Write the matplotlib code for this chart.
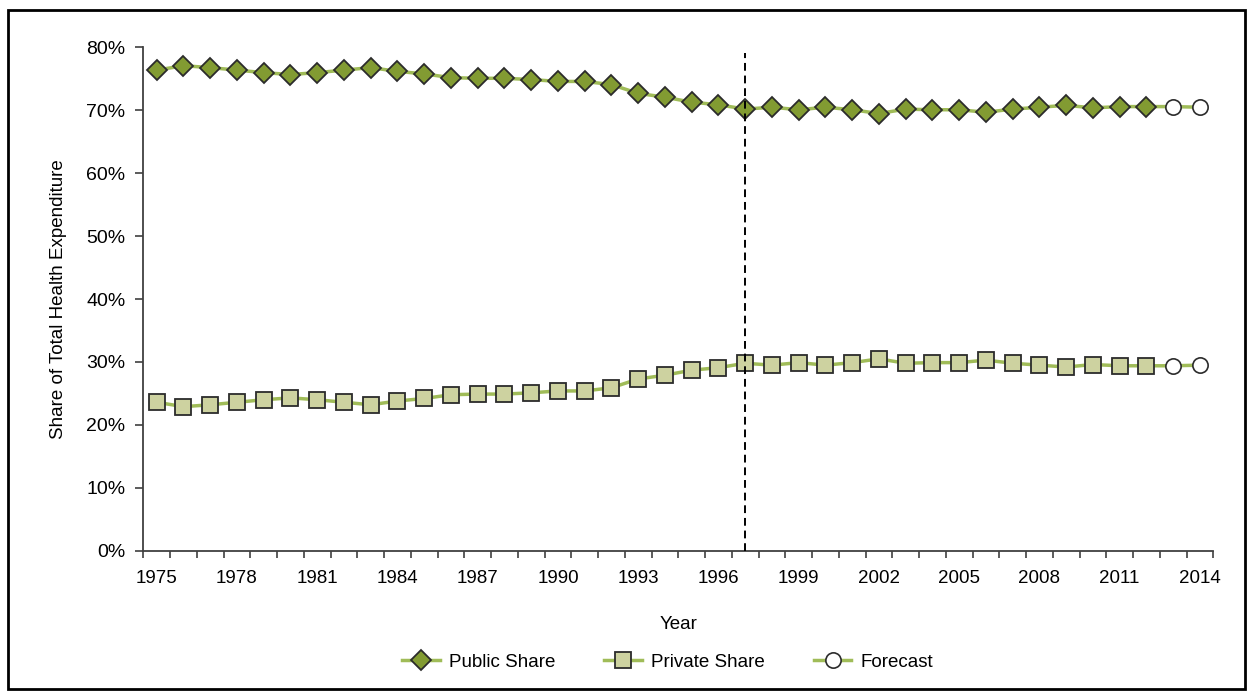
import matplotlib
matplotlib.use("Agg")
import matplotlib.pyplot as plt
from matplotlib.lines import Line2D
from matplotlib.patches import Rectangle
from matplotlib.ticker import PercentFormatter

plt.rcParams['font.family'] = ['Liberation Sans', 'DejaVu Sans']

years = list(range(1975, 2015))
public_share = [76.4, 77.1, 76.8, 76.4, 76.0, 75.7, 76.0, 76.4, 76.8, 76.2,
                75.8, 75.2, 75.1, 75.1, 74.9, 74.6, 74.6, 74.1, 72.7, 72.1,
                71.3, 70.9, 70.2, 70.5, 70.1, 70.5, 70.1, 69.5, 70.2, 70.1,
                70.1, 69.7, 70.2, 70.5, 70.8, 70.4, 70.6, 70.6, 70.6, 70.5]
private_share = [round(100 - v, 1) for v in public_share]
forecast_years = [2013, 2014]
split_year = 1997
tick_years = years[::3]

line_col = "#A0BC58"
edge_col = "#2B2B2B"
pub_col = "#829B32"
priv_col = "#CDD2A0"

fig = plt.figure(figsize=(12.53, 6.95), dpi=100)
ax = fig.add_axes([0.1144, 0.2076, 0.8539, 0.7241])

pos = list(range(len(years)))
n_act = len(years) - len(forecast_years)

for vals, mk, fc, ms in [(public_share, "D", pub_col, 10.5),
                         (private_share, "s", priv_col, 11)]:
    ys = [v / 100 for v in vals]
    ax.plot(pos, ys, color=line_col, lw=2.5, zorder=2)
    ax.plot(pos[:n_act], ys[:n_act], ls="none", marker=mk, ms=ms,
            mfc=fc, mec=edge_col, mew=1.3, zorder=3)
    ax.plot(pos[n_act:], ys[n_act:], ls="none", marker="o", ms=11,
            mfc="white", mec=edge_col, mew=1.2, zorder=3)

sx = years.index(split_year)
ax.vlines(sx, 0, 0.792, colors="black", linestyles=(0, (4, 2.5)), lw=1.4, zorder=4)

ax.set_xlim(-0.5, len(years) - 0.5)
ax.set_ylim(0, 0.8)
ax.set_yticks([i / 10 for i in range(9)])
ax.yaxis.set_major_formatter(PercentFormatter(1.0, decimals=0))

ax.set_xticks([p - 0.5 for p in range(len(years) + 1)])
ax.set_xticklabels([])
ax.set_xticks([years.index(y) for y in tick_years], minor=True)
ax.set_xticklabels([str(y) for y in tick_years], minor=True)
ax.tick_params(axis="x", which="major", length=5, width=1.2, color="#404040")
ax.tick_params(axis="x", which="minor", length=0, pad=14, labelsize=13.5)
ax.tick_params(axis="y", length=6, width=1.2, color="#404040", labelsize=14, pad=7)

for s in ["top", "right"]:
    ax.spines[s].set_visible(False)
for s in ["left", "bottom"]:
    ax.spines[s].set_color("#404040")
    ax.spines[s].set_linewidth(1.3)

ax.set_xlabel("Year", fontsize=13.5, labelpad=21)
ax.set_ylabel("Share of Total Health Expenditure", fontsize=13.5, labelpad=14)

handles = [
    Line2D([], [], color=line_col, lw=2.5, marker="D", ms=10, mfc=pub_col, mec=edge_col, mew=1.3),
    Line2D([], [], color=line_col, lw=2.5, marker="s", ms=11, mfc=priv_col, mec=edge_col, mew=1.3),
    Line2D([], [], color=line_col, lw=2.5, marker="o", ms=11, mfc="white", mec=edge_col, mew=1.2),
]
fig.legend(handles, ["Public Share", "Private Share", "Forecast"], loc="center",
           bbox_to_anchor=(0.533, 0.047), ncol=3, frameon=False, fontsize=13.5,
           handlelength=2.0, columnspacing=2.6, handletextpad=0.5)

fig.patches.append(Rectangle((0.006, 0.008), 0.988, 0.978, transform=fig.transFigure,
                             fill=False, ec="black", lw=2))

fig.savefig("out.png", dpi=100)
